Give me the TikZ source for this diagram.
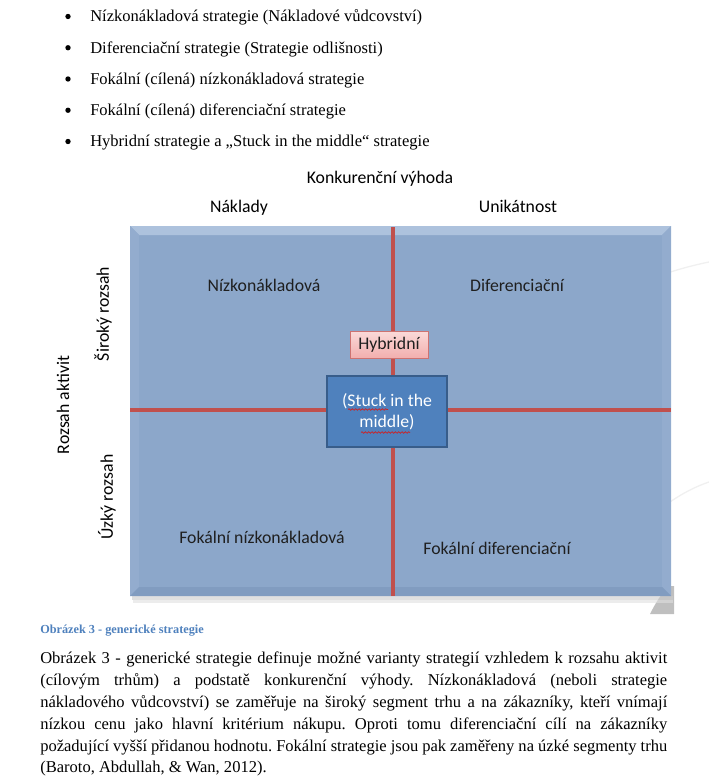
\documentclass[tikz,border=0pt]{standalone}
\usepackage{fontspec}
\setmainfont{Liberation Serif}
\newfontfamily\calibri{Carlito}
\usetikzlibrary{positioning,decorations.pathmorphing}
\definecolor{quadblue}{HTML}{8CA7CA}
\definecolor{bevellight}{HTML}{ADC2DD}
\definecolor{bevelside}{HTML}{93ACCE}
\definecolor{beveldark}{HTML}{819CC0}
\definecolor{axisred}{HTML}{C0504D}
\definecolor{stuckblue}{HTML}{4F81BD}
\definecolor{stuckedge}{HTML}{385D8A}
\definecolor{hybridtop}{HTML}{FADAD9}
\definecolor{hybridbot}{HTML}{F2AFAE}
\definecolor{captionblue}{HTML}{4F81BD}
\definecolor{squiggle}{HTML}{D02020}
\tikzset{
  bulletitem/.style={anchor=base west, inner sep=0pt, font=\fontsize{12.4}{14}\selectfont},
  bulletdot/.style={circle, fill=black, inner sep=0pt, minimum size=4pt},
  axislabel/.style={inner sep=0pt, font=\calibri\fontsize{13.3}{16}\selectfont},
  quadlabel/.style={inner sep=0pt, text=black!88, font=\calibri\fontsize{13.3}{16}\selectfont},
  redline/.style={axisred, line width=3pt},
  wavy/.style={squiggle, line width=0.5pt, decorate, decoration={snake, amplitude=0.6pt, segment length=2.5pt}},
}
\begin{document}
\frenchspacing
\begin{tikzpicture}[x=0.75pt,y=-0.75pt]
\useasboundingbox (0,0) rectangle (709,784);

% odrazky
\foreach \txt [count=\i] in {Nízkonákladová strategie (Nákladové vůdcovství),
    Diferenciační strategie (Strategie odlišnosti),
    Fokální (cílená) nízkonákladová strategie,
    Fokální (cílená) diferenciační strategie,
    Hybridní strategie a „Stuck in the middle“ strategie}{
  \node[bulletitem] (item\i) at (90,{22+31.25*(\i-1)}) {\txt};
  \node[bulletdot] (bullet\i) at (68,{16.5+31.25*(\i-1)}) {};
}

% pozadi
\draw[black!6, line width=1pt] (560,330) .. controls (610,292) and (660,272) .. (709,262);
\draw[black!6, line width=1pt] (600,575) .. controls (630,530) and (670,495) .. (709,482);
\fill[black!25] (650,614) .. controls (656,602) and (662,593) .. (668,586) -- (674,586) -- (674,614) -- cycle;

% stin
\fill[black!20, opacity=0.6] (132,596) rectangle (673,600);
\fill[black!12, opacity=0.6] (133,600) rectangle (673,603);

% ctverec
\fill[quadblue] (130,226) rectangle (671,596);
\fill[bevellight] (130,226) -- (671,226) -- (662,235) -- (139,235) -- cycle;
\fill[bevelside] (130,226) -- (139,235) -- (139,587) -- (130,596) -- cycle;
\fill[bevelside] (671,226) -- (662,235) -- (662,587) -- (671,596) -- cycle;
\fill[beveldark] (130,596) -- (139,587) -- (662,587) -- (671,596) -- cycle;

% osy
\coordinate (vtop) at (393,227);
\coordinate (vbot) at (393,596);
\coordinate (hleft) at (130,410);
\coordinate (hright) at (671,410);
\draw[redline] (vtop) -- (vbot);
\draw[redline] (hleft) -- (hright);

% popisky
\node[axislabel, anchor=base] (vyhoda) at (380,184) {Konkurenční výhoda};
\node[axislabel, anchor=base] (naklady) at (239,213) {Náklady};
\node[axislabel, anchor=base] (unikat) at (518,213) {Unikátnost};
\node[axislabel, rotate=90] (rozsah) at (63,405) {Rozsah aktivit};
\node[axislabel, rotate=90] (siroky) at (103,314) {Široký rozsah};
\node[axislabel, rotate=90] (uzky) at (107,497) {Úzký rozsah};

\node[quadlabel] (nizko) at (264,285) {Nízkonákladová};
\node[quadlabel] (difer) at (517,285) {Diferenciační};
\node[quadlabel] (foknizko) at (262,537) {Fokální nízkonákladová};
\node[quadlabel] (fokdifer) at (497,548) {Fokální diferenciační};

% hybridni a stuck
\node[draw=axisred!80, line width=0.6pt, top color=hybridtop, bottom color=hybridbot,
      minimum width=58.5pt, minimum height=20.25pt, inner sep=0pt, text=black!88,
      font=\calibri\fontsize{13.3}{16}\selectfont] (hybrid) at (389,344.5) {Hybridní};
\node[draw=stuckedge, line width=0.9pt, fill=stuckblue, minimum width=90pt, minimum height=53.25pt,
      inner sep=0pt, align=center, text=white,
      font=\calibri\fontsize{13.3}{15.75}\selectfont] (stuck) at (387,411.5) {(Stuck in the\\middle)};
\draw[wavy] (348,409.5) -- (388,409.5);
\draw[wavy] (361,432.5) -- (410,432.5);

% titulek
\node[anchor=base west, inner sep=0pt, text=captionblue, font=\bfseries\fontsize{9.2}{11}\selectfont]
  (titulek) at (40,633) {Obrázek 3 - generické strategie};

% odstavec
\node[anchor=north west, inner sep=0pt, align=left, font=\fontsize{12.4}{16.35}\selectfont] (odstavec) at (40,652) {%
\makebox[470.25pt][s]{Obrázek 3 - generické strategie definuje možné varianty strategií vzhledem k rozsahu aktivit}\\
\makebox[470.25pt][s]{(cílovým trhům) a podstatě konkurenční výhody. Nízkonákladová (neboli strategie}\\
\makebox[470.25pt][s]{nákladového vůdcovství) se zaměřuje na široký segment trhu a na zákazníky, kteří vnímají}\\
\makebox[470.25pt][s]{nízkou cenu jako hlavní kritérium nákupu. Oproti tomu diferenciační cílí na zákazníky}\\
\makebox[470.25pt][s]{požadující vyšší přidanou hodnotu. Fokální strategie jsou pak zaměřeny na úzké segmenty trhu}\\
(Baroto, Abdullah, \& Wan, 2012).};

\end{tikzpicture}
\end{document}
